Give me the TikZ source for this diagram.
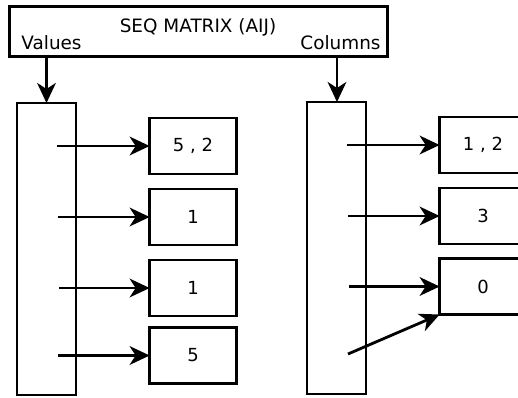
\documentclass[tikz,border=0pt]{standalone}
\usepackage{fontspec}
\setmainfont{DejaVu Sans}
\usetikzlibrary{arrows.meta}
\begin{document}
\begin{tikzpicture}[x=0.75pt,y=-0.75pt,
  every node/.style={inner sep=0pt,outer sep=0pt},
  box/.style={draw,line width=2.1pt,rectangle},
  tall/.style={box,minimum width=44.25pt,minimum height=219pt},
  cell/.style={box,minimum width=65pt,minimum height=42pt,font=\fontsize{13.5}{16}\selectfont},
  lbl/.style={font=\fontsize{13.8}{16}\selectfont},
  arr/.style={line width=2.1pt,-{Stealth[length=15pt,width=14pt,inset=4.5pt]}}]
\useasboundingbox (0,0) rectangle (518,397);
\begin{scope}
\clip (0,0) rectangle (518,397);
\node[box,minimum width=283pt,minimum height=37.5pt] (top) at (198.5,31.2) {};
\node[lbl] (title) at (198,27) {SEQ MATRIX (AIJ)};
\node[lbl] (vals) at (51.5,42.5) {Values};
\node[lbl] (cols) at (340.5,42.5) {Columns};

\node[tall] (L) at (46.5,249) {};
\node[tall] (R) at (336.5,248) {};

\node[cell] (v1) at (193,146) {5 , 2};
\node[cell] (v2) at (193,217) {1};
\node[cell] (v3) at (193,288) {1};
\node[cell] (v4) at (193,355.5) {5};

\node[cell] (c1) at (483,145) {1 , 2};
\node[cell] (c2) at (483,216) {3};
\node[cell] (c3) at (483,286.5) {0};

\coordinate (tv) at (46.5,56);
\coordinate (tc) at (337,56);
\draw[arr] (tv) -- (L.north -| tv);
\draw[arr] (tc) -- (R.north -| tc);

\coordinate (a1) at (57,146);
\coordinate (a2) at (58,217);
\coordinate (a3) at (59,288);
\coordinate (a4) at (58,355.5);
\draw[arr] (a1) -- (v1.west);
\draw[arr] (a2) -- (v2.west);
\draw[arr] (a3) -- (v3.west);
\draw[arr] (a4) -- (v4.west);

\coordinate (b1) at (347,145);
\coordinate (b2) at (348,216);
\coordinate (b3) at (349,286.5);
\coordinate (b4) at (348,354);
\draw[arr] (b1) -- (c1.west);
\draw[arr] (b2) -- (c2.west);
\draw[arr] (b3) -- (c3.west);
\draw[arr] (b4) -- (c3.south west);
\end{scope}
\end{tikzpicture}
\end{document}
